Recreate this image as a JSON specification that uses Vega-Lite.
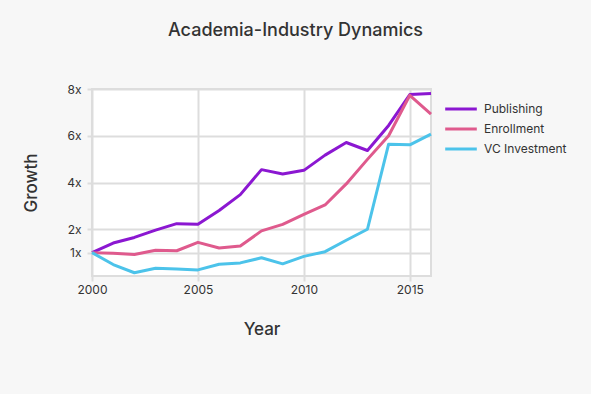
{
  "$schema": "https://vega.github.io/schema/vega-lite/v6.json",
  "autosize": {"type": "none"},
  "width": 339,
  "height": 187,
  "padding": {"left": 92, "top": 89, "right": 160, "bottom": 118},
  "background": "#f7f7f7",
  "title": {
    "text": "Academia-Industry Dynamics",
    "font": "Inter",
    "fontSize": 18,
    "fontWeight": 500,
    "color": "#333333",
    "anchor": "middle",
    "dx": 34,
    "offset": 43
  },
  "data": {
    "values": [
      {"year": 2000, "series": "Publishing", "growth": 1.0},
      {"year": 2001, "series": "Publishing", "growth": 1.41},
      {"year": 2002, "series": "Publishing", "growth": 1.65},
      {"year": 2003, "series": "Publishing", "growth": 1.96},
      {"year": 2004, "series": "Publishing", "growth": 2.24},
      {"year": 2005, "series": "Publishing", "growth": 2.21},
      {"year": 2006, "series": "Publishing", "growth": 2.8},
      {"year": 2007, "series": "Publishing", "growth": 3.48},
      {"year": 2008, "series": "Publishing", "growth": 4.55},
      {"year": 2009, "series": "Publishing", "growth": 4.36},
      {"year": 2010, "series": "Publishing", "growth": 4.52},
      {"year": 2011, "series": "Publishing", "growth": 5.17},
      {"year": 2012, "series": "Publishing", "growth": 5.71},
      {"year": 2013, "series": "Publishing", "growth": 5.37},
      {"year": 2014, "series": "Publishing", "growth": 6.44},
      {"year": 2015, "series": "Publishing", "growth": 7.76},
      {"year": 2016, "series": "Publishing", "growth": 7.81},
      {"year": 2000, "series": "Enrollment", "growth": 1.0},
      {"year": 2001, "series": "Enrollment", "growth": 0.97},
      {"year": 2002, "series": "Enrollment", "growth": 0.92},
      {"year": 2003, "series": "Enrollment", "growth": 1.1},
      {"year": 2004, "series": "Enrollment", "growth": 1.08},
      {"year": 2005, "series": "Enrollment", "growth": 1.44},
      {"year": 2006, "series": "Enrollment", "growth": 1.2},
      {"year": 2007, "series": "Enrollment", "growth": 1.28},
      {"year": 2008, "series": "Enrollment", "growth": 1.93},
      {"year": 2009, "series": "Enrollment", "growth": 2.21},
      {"year": 2010, "series": "Enrollment", "growth": 2.64},
      {"year": 2011, "series": "Enrollment", "growth": 3.04},
      {"year": 2012, "series": "Enrollment", "growth": 3.94},
      {"year": 2013, "series": "Enrollment", "growth": 4.99},
      {"year": 2014, "series": "Enrollment", "growth": 6.0},
      {"year": 2015, "series": "Enrollment", "growth": 7.73},
      {"year": 2016, "series": "Enrollment", "growth": 6.93},
      {"year": 2000, "series": "VC Investment", "growth": 1.0},
      {"year": 2001, "series": "VC Investment", "growth": 0.49},
      {"year": 2002, "series": "VC Investment", "growth": 0.14},
      {"year": 2003, "series": "VC Investment", "growth": 0.33},
      {"year": 2004, "series": "VC Investment", "growth": 0.3},
      {"year": 2005, "series": "VC Investment", "growth": 0.26},
      {"year": 2006, "series": "VC Investment", "growth": 0.5},
      {"year": 2007, "series": "VC Investment", "growth": 0.56},
      {"year": 2008, "series": "VC Investment", "growth": 0.78},
      {"year": 2009, "series": "VC Investment", "growth": 0.52},
      {"year": 2010, "series": "VC Investment", "growth": 0.84},
      {"year": 2011, "series": "VC Investment", "growth": 1.04},
      {"year": 2012, "series": "VC Investment", "growth": 1.53},
      {"year": 2013, "series": "VC Investment", "growth": 2.0},
      {"year": 2014, "series": "VC Investment", "growth": 5.64},
      {"year": 2015, "series": "VC Investment", "growth": 5.61},
      {"year": 2016, "series": "VC Investment", "growth": 6.07}
    ]
  },
  "mark": {"type": "line", "strokeWidth": 3, "strokeJoin": "round"},
  "encoding": {
    "x": {
      "field": "year",
      "type": "quantitative",
      "title": "Year",
      "scale": {"domain": [2000, 2016], "nice": false, "zero": false},
      "axis": {"values": [2000, 2005, 2010, 2015], "format": "d", "labelFlush": false}
    },
    "y": {
      "field": "growth",
      "type": "quantitative",
      "title": "Growth",
      "scale": {"domain": [0, 8], "nice": false},
      "axis": {"values": [1, 2, 4, 6, 8], "labelExpr": "datum.value + 'x'", "labelFlush": false}
    },
    "color": {
      "field": "series",
      "type": "nominal",
      "title": null,
      "sort": ["Publishing", "Enrollment", "VC Investment"],
      "scale": {
        "domain": ["Publishing", "Enrollment", "VC Investment"],
        "range": ["#8b17d1", "#df5a8d", "#4cc3ea"]
      },
      "legend": {
        "orient": "none",
        "legendX": 362,
        "legendY": 13,
        "symbolType": "M-3,0H3",
        "symbolSize": 111,
        "symbolStrokeWidth": 3,
        "labelOffset": 16,
        "rowPadding": 7,
        "labelFontSize": 12,
        "labelFont": "Inter",
        "labelColor": "#333333"
      }
    }
  },
  "config": {
    "view": {"stroke": "#dddddd", "strokeWidth": 2, "fill": "#ffffff"},
    "axis": {
      "grid": true,
      "gridColor": "#dddddd",
      "gridWidth": 2,
      "domain": false,
      "ticks": true,
      "tickColor": "#dddddd",
      "tickSize": 5,
      "tickWidth": 2,
      "labelFont": "Inter",
      "labelFontSize": 12,
      "labelColor": "#333333",
      "titleFont": "Inter",
      "titleFontSize": 17,
      "titleFontWeight": 500,
      "titleColor": "#333333"
    },
    "axisX": {"labelPadding": 3, "titlePadding": 26},
    "axisY": {"labelPadding": 6, "titlePadding": 26}
  }
}
